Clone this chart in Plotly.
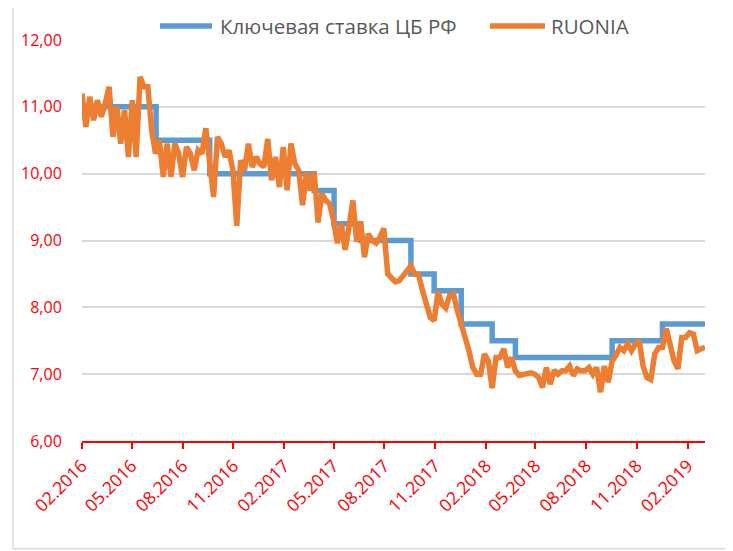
import pandas as pd
import plotly.graph_objects as go

# Key rate of the Bank of Russia (change dates and values)
key_dates = ["2016-02-01", "2016-06-14", "2016-09-19", "2017-03-27", "2017-05-02",
             "2017-06-19", "2017-09-18", "2017-10-30", "2017-12-18", "2018-02-12",
             "2018-03-26", "2018-09-17", "2018-12-17", "2019-03-04"]
key_rate = [11.00, 10.50, 10.00, 9.75, 9.25, 9.00, 8.50, 8.25, 7.75, 7.50,
            7.25, 7.50, 7.75, 7.75]

# RUONIA, weekly observations starting 2016-02-01
ruonia_start = "2016-02-01"
ruonia = [
    11.20, 10.70, 11.15, 10.80, 11.10, 10.85, 11.05, 11.30, 10.55, 11.00,
    10.45, 10.95, 10.25, 11.10, 10.25, 11.45, 11.30, 11.30, 10.65, 10.30,
    10.50, 9.95, 10.45, 9.95, 10.45, 10.30, 9.95, 10.40, 10.30, 10.05,
    10.35, 10.30, 10.68, 10.10, 9.65, 10.55, 10.45, 10.25, 10.35, 10.05,
    9.22, 10.20, 10.05, 10.45, 10.10, 10.25, 10.15, 10.10, 10.52, 9.90,
    10.25, 9.80, 10.40, 9.75, 10.45, 10.15, 10.05, 9.53, 10.02, 9.75,
    10.02, 9.27, 9.70, 9.60, 9.55, 9.30, 8.96, 9.25, 8.86, 9.20,
    9.60, 8.98, 9.28, 8.75, 9.10, 9.00, 8.96, 9.05, 9.18, 8.50,
    8.45, 8.38, 8.40, 8.48, 8.55, 8.62, 8.50, 8.48, 8.25, 8.05,
    7.85, 7.80, 8.23, 8.05, 7.99, 8.18, 8.20, 7.95, 7.75, 7.60,
    7.35, 7.10, 7.00, 7.00, 7.30, 7.20, 6.79, 7.25, 7.25, 7.38,
    7.10, 7.25, 7.05, 6.98, 7.00, 7.00, 7.02, 7.00, 6.95, 6.80,
    7.10, 6.85, 7.06, 7.00, 7.05, 7.05, 7.12, 6.98, 7.08, 7.05,
    7.05, 7.10, 7.00, 7.10, 6.73, 7.12, 6.88, 7.20, 7.28, 7.40,
    7.35, 7.45, 7.35, 7.45, 7.50, 7.12, 6.95, 6.92, 7.30, 7.40,
    7.40, 7.68, 7.40, 7.20, 7.08, 7.55, 7.55, 7.62, 7.60, 7.35,
    7.38, 7.40,
]
ruonia_dates = pd.date_range(ruonia_start, periods=len(ruonia), freq="7D")

series_names = ["Ключевая ставка ЦБ РФ", "RUONIA"]
series_colors = ["#5B9BD5", "#ED7D31"]

fig = go.Figure()
fig.add_trace(go.Scatter(
    x=key_dates, y=key_rate, name=series_names[0], mode="lines",
    line=dict(color=series_colors[0], width=5.5, shape="hv"), showlegend=False,
))
fig.add_trace(go.Scatter(
    x=ruonia_dates, y=ruonia, name=series_names[1], mode="lines",
    line=dict(color=series_colors[1], width=5.5, shape="linear"), showlegend=False,
))

# Legend drawn by hand (line sample + label) to match the original layout
legend_y = 1.035
legend_items = [(0.1252, 0.2087, 0.2183), (0.6549, 0.7432, 0.7496)]
shapes = []
annotations = []
for (lx0, lx1, tx), name, col in zip(legend_items, series_names, series_colors):
    shapes.append(dict(type="line", xref="paper", yref="paper", x0=lx0, x1=lx1,
                       y0=legend_y, y1=legend_y, line=dict(color=col, width=5.5)))
    annotations.append(dict(xref="paper", yref="paper", x=tx, y=legend_y, xanchor="left",
                            yanchor="middle", text=name, showarrow=False,
                            font=dict(size=20.5, color="#595959", family="Open Sans")))

# Chart-area border (left and bottom visible)
shapes += [
    dict(type="line", xref="paper", yref="paper", x0=-0.1108, x1=-0.1108, y0=-0.269, y1=1.2,
         line=dict(color="#D9D9D9", width=1.5)),
    dict(type="line", xref="paper", yref="paper", x0=-0.1108, x1=1.1, y0=-0.269, y1=-0.269,
         line=dict(color="#D9D9D9", width=1.5)),
]

red = "#FF0000"
fig.update_layout(
    width=725, height=543,
    margin=dict(l=74, r=28, t=32, b=110, autoexpand=False),
    paper_bgcolor="white", plot_bgcolor="white",
    font=dict(family="Open Sans", size=16, color=red),
    separators=", ",
    showlegend=False,
    xaxis=dict(
        type="date", automargin=False,
        range=["2016-02-01", "2019-03-04"],
        tick0="2016-02-01", dtick="M3", tickformat="%m.%Y",
        tickangle=-45, tickfont=dict(size=17.5, color=red),
        ticks="outside", ticklen=6, tickcolor=red, tickwidth=1.5,
        showline=True, linecolor=red, linewidth=1.5,
        showgrid=False, zeroline=False,
    ),
    yaxis=dict(
        automargin=False,
        range=[6, 12], dtick=1, tick0=6, tickformat=".2f",
        tickfont=dict(size=16, color=red),
        ticks="outside", ticklen=16, tickcolor="rgba(0,0,0,0)",
        showgrid=True, gridcolor="#D9D9D9", gridwidth=1.5,
        zeroline=False, showline=False,
    ),
    shapes=shapes,
    annotations=annotations,
)

fig.write_html("out.html")
